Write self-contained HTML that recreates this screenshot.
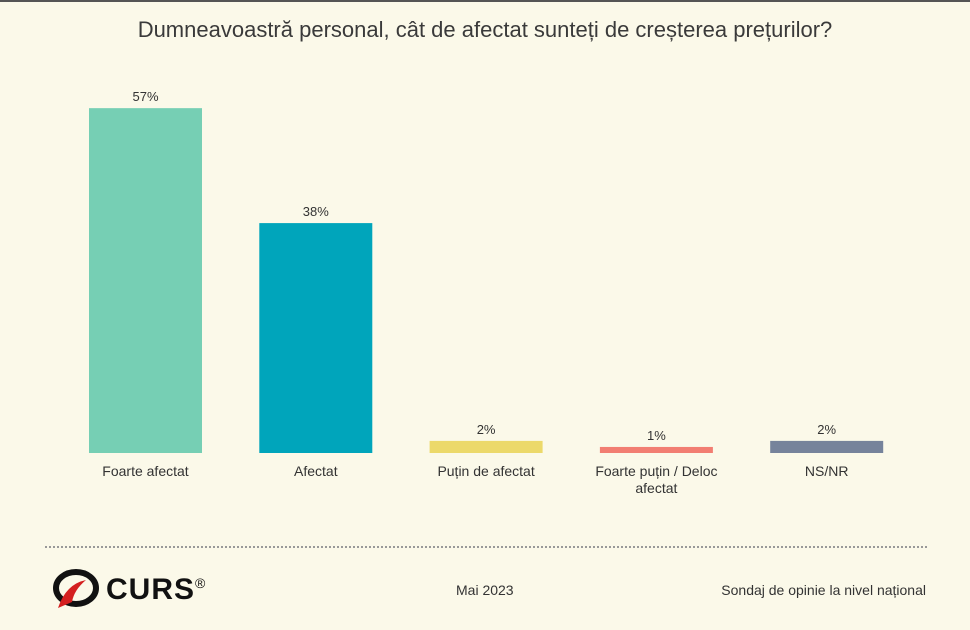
<!DOCTYPE html>
<html><head><meta charset="utf-8"><style>
body{margin:0;width:970px;height:630px;background:#fbf9e9;font-family:"Liberation Sans",sans-serif;overflow:hidden;position:relative}
.t{position:absolute;white-space:nowrap;color:#333}
</style></head><body>
<div style="position:absolute;left:0;top:0;width:970px;height:2px;background:#555"></div>
<div class="t" style="left:0;width:970px;text-align:center;top:17px;font-size:22px;color:#3a3a3a">Dumneavoastră personal, cât de afectat sunteți de creșterea prețurilor?</div>
<svg id="c" width="970" height="630" style="position:absolute;left:0;top:0"></svg>
<div style="position:absolute;left:45px;top:546px;width:882px;border-top:2px dotted #999"></div>
<svg style="position:absolute;left:52px;top:568px" width="50" height="44">
<ellipse cx="24" cy="20" rx="20" ry="16" fill="none" stroke="#111" stroke-width="6"/>
<path d="M6 40 Q14 16 34 12 Q22 22 20 34 Z" fill="#d42020"/>
</svg>
<div class="t" style="left:106px;top:573px;font-size:30px;font-weight:bold;color:#111;letter-spacing:1px">CURS<sup style="font-size:14px;font-weight:normal">®</sup></div>
<div class="t" style="left:456px;top:582px;font-size:14px">Mai 2023</div>
<div class="t" style="right:44px;top:582px;font-size:14px">Sondaj de opinie la nivel național</div>
<script>
const categories=["Foarte afectat","Afectat","Puțin de afectat","Foarte puțin / Deloc\nafectat","NS/NR"];
const values=[57,38,2,1,2];
const colors=["#76cfb4","#00a5bb","#ecd96a","#f27e72","#76839b"];
const svg=document.getElementById('c');
const NS="http://www.w3.org/2000/svg";
const base=453,scale=6.05,x0=89,step=170.3,bw=113;
const y=v=>base-v*scale;
categories.forEach((c,i)=>{
 const x=x0+i*step;
 const r=document.createElementNS(NS,'rect');
 r.setAttribute('x',x);r.setAttribute('y',y(values[i]));r.setAttribute('width',bw);r.setAttribute('height',base-y(values[i]));r.setAttribute('fill',colors[i]);
 
 
 svg.appendChild(r);
 const v=document.createElementNS(NS,'text');
 v.setAttribute('x',x+bw/2);v.setAttribute('y',y(values[i])-7);v.setAttribute('text-anchor','middle');v.setAttribute('font-size','13');v.setAttribute('fill','#333');v.setAttribute('font-family','Liberation Sans');
 v.textContent=values[i]+'%';
 
 
 svg.appendChild(v);
 c.split('\n').forEach((line,j)=>{
  const t=document.createElementNS(NS,'text');
  t.setAttribute('x',x+bw/2);t.setAttribute('y',476+j*17);t.setAttribute('text-anchor','middle');t.setAttribute('font-size','14');t.setAttribute('fill','#333');t.setAttribute('font-family','Liberation Sans');
  t.textContent=line;
  
  
  svg.appendChild(t);
 });
});
</script>
</body></html>
